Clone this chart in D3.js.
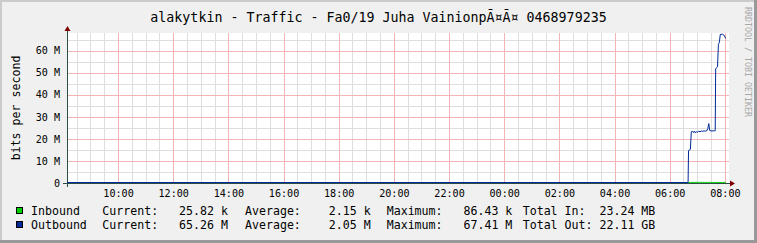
<!DOCTYPE html>
<html>
<head>
<meta charset="utf-8">
<script src="https://cdn.jsdelivr.net/npm/d3@7"></script>
<style>
  body { margin: 0; background: #f0f0f0; }
  text { font-family: "DejaVu Sans Mono", monospace; fill: #000; }
</style>
</head>
<body>
<div id="chart"></div>
<script>
// chart data
var title = "alakytkin - Traffic - Fa0/19 Juha VainionpÃ¤Ã¤ 0468979235";
var yLabel = "bits per second";
var watermark = "RRDTOOL / TOBI OETIKER";
var timeStart = "2010-03-09 08:09", timeEnd = "2010-03-10 08:09";

// outbound, M bits/s
var outTimes = ["2010-03-09 08:09", "2010-03-10 06:40", "2010-03-10 06:41", "2010-03-10 06:45",
  "2010-03-10 06:47", "2010-03-10 06:50", "2010-03-10 06:52", "2010-03-10 06:54", "2010-03-10 06:56",
  "2010-03-10 06:58", "2010-03-10 07:00", "2010-03-10 07:03", "2010-03-10 07:06", "2010-03-10 07:09",
  "2010-03-10 07:12", "2010-03-10 07:15", "2010-03-10 07:18", "2010-03-10 07:21", "2010-03-10 07:23",
  "2010-03-10 07:25", "2010-03-10 07:27", "2010-03-10 07:30", "2010-03-10 07:35", "2010-03-10 07:39",
  "2010-03-10 07:40", "2010-03-10 07:44", "2010-03-10 07:46", "2010-03-10 07:48", "2010-03-10 07:50",
  "2010-03-10 07:55", "2010-03-10 07:58", "2010-03-10 08:02"];
var outValues = [0, 0, 14.5, 15.0,
  23.0, 23.2, 22.6, 23.3, 22.5,
  23.0, 22.8, 23.2, 23.0, 23.3,
  23.2, 23.4, 23.3, 23.5, 24.5,
  26.7, 23.6, 23.4, 23.4, 23.5,
  51.5, 52.5, 62.6, 63.5, 67.1,
  67.2, 66.8, 65.3];

// inbound, k bits/s
var inTimes = ["2010-03-09 08:09", "2010-03-10 06:40", "2010-03-10 06:45", "2010-03-10 06:55",
  "2010-03-10 07:05", "2010-03-10 07:15", "2010-03-10 07:25", "2010-03-10 07:35", "2010-03-10 07:45",
  "2010-03-10 07:55", "2010-03-10 08:02"];
var inValues = [0, 0, 32.4, 55.1, 86.43, 41.2, 60.3, 38.7, 30.5, 28.1, 25.82];

var yTicks = [0, 10, 20, 30, 40, 50, 60]; // M

var legendNames = ["Inbound", "Outbound"];
var legendColors = ["#00cf00", "#002a97"];
var legendCurrent = ["25.82 k", "65.26 M"];
var legendAverage = ["2.15 k", "2.05 M"];
var legendMaximum = ["86.43 k", "67.41 M"];
var legendTotalLabel = ["Total In:", "Total Out:"];
var legendTotal = ["23.24 MB", "22.11 GB"];

var width = 757, height = 243;
var plot = {left: 67, right: 729, top: 33, bottom: 183};

var parse = d3.timeParse("%Y-%m-%d %H:%M");

var svg = d3.select("#chart")
  .append("svg")
  .attr("width", width)
  .attr("height", height);

// frame with rrd style shading
svg.append("rect").attr("width", width).attr("height", height).attr("fill", "#f0f0f0");
svg.append("rect").attr("x", 0).attr("y", 0).attr("width", width).attr("height", 2).attr("fill", "#cbcbcb");
svg.append("rect").attr("x", 0).attr("y", 0).attr("width", 2).attr("height", height).attr("fill", "#cbcbcb");
svg.append("rect").attr("x", 0).attr("y", height - 3).attr("width", width).attr("height", 3).attr("fill", "#999");
svg.append("rect").attr("x", width - 3).attr("y", 0).attr("width", 3).attr("height", height).attr("fill", "#999");

var x = d3.scaleTime()
  .domain([parse(timeStart), parse(timeEnd)])
  .range([plot.left, plot.right]);

var y = d3.scaleLinear()
  .domain([0, 68e6])
  .range([plot.bottom, plot.top]);

// canvas
svg.append("rect")
  .attr("x", plot.left).attr("y", plot.top)
  .attr("width", plot.right - plot.left).attr("height", plot.bottom - plot.top)
  .attr("fill", "#fff");

var grid = svg.append("g").attr("shape-rendering", "crispEdges");

// minor grid
grid.selectAll(".vmin")
  .data(x.ticks(d3.timeMinute.every(30)))
  .enter().append("line")
    .attr("x1", function(d) { return Math.round(x(d)) + 0.5; })
    .attr("x2", function(d) { return Math.round(x(d)) + 0.5; })
    .attr("y1", plot.top).attr("y2", plot.bottom)
    .attr("stroke", "#dedede");
grid.selectAll(".hmin")
  .data(y.ticks(14))
  .enter().append("line")
    .attr("x1", plot.left).attr("x2", plot.right)
    .attr("y1", function(d) { return Math.round(y(d)) + 0.5; })
    .attr("y2", function(d) { return Math.round(y(d)) + 0.5; })
    .attr("stroke", "#dedede");

// major grid
grid.selectAll(".vmaj")
  .data(x.ticks(d3.timeHour.every(2)))
  .enter().append("line")
    .attr("x1", function(d) { return Math.round(x(d)) + 0.5; })
    .attr("x2", function(d) { return Math.round(x(d)) + 0.5; })
    .attr("y1", plot.top).attr("y2", plot.bottom)
    .attr("stroke", "#f2b4b4");
grid.selectAll(".hmaj")
  .data(yTicks)
  .enter().append("line")
    .attr("x1", plot.left).attr("x2", plot.right)
    .attr("y1", function(d) { return Math.round(y(d * 1e6)) + 0.5; })
    .attr("y2", function(d) { return Math.round(y(d * 1e6)) + 0.5; })
    .attr("stroke", "#f2b4b4");

// axis labels
var yAxis = svg.append("g")
  .attr("transform", "translate(" + plot.left + ",0)")
  .call(d3.axisLeft(y)
    .tickValues(yTicks.map(function(d) { return d * 1e6; }))
    .tickSize(0).tickPadding(7)
    .tickFormat(function(d) { return d === 0 ? "0" : (d / 1e6) + " M"; }));
yAxis.select(".domain").remove();
yAxis.selectAll("text").style("font-family", "DejaVu Sans Mono").style("font-size", "10.1px");

var xAxis = svg.append("g")
  .attr("transform", "translate(0," + plot.bottom + ")")
  .call(d3.axisBottom(x)
    .ticks(d3.timeHour.every(2))
    .tickSize(0).tickPadding(7)
    .tickFormat(d3.timeFormat("%H:%M")));
xAxis.select(".domain").remove();
xAxis.selectAll("text").style("font-family", "DejaVu Sans Mono").style("font-size", "10.1px");

// axis lines and arrows
svg.append("line")
  .attr("x1", plot.left - 4).attr("x2", plot.right + 2)
  .attr("y1", plot.bottom + 0.5).attr("y2", plot.bottom + 0.5)
  .attr("stroke", "#2c4d43").attr("shape-rendering", "crispEdges");
svg.append("line")
  .attr("x1", plot.left + 0.5).attr("x2", plot.left + 0.5)
  .attr("y1", plot.bottom + 4).attr("y2", plot.top - 3)
  .attr("stroke", "#2c4d43").attr("shape-rendering", "crispEdges");
svg.append("path")
  .attr("d", "M" + (plot.right + 1) + "," + (plot.bottom - 2.5) + "L" + (plot.right + 6) + "," + (plot.bottom + 0.5) +
    "L" + (plot.right + 1) + "," + (plot.bottom + 3.5) + "Z")
  .attr("fill", "#7f0000");
svg.append("path")
  .attr("d", "M" + (plot.left - 2.5) + "," + (plot.top - 2) + "L" + (plot.left + 0.5) + "," + (plot.top - 7) +
    "L" + (plot.left + 3.5) + "," + (plot.top - 2) + "Z")
  .attr("fill", "#7f0000");

// series
var inData = inTimes.map(function(t, i) { return {t: parse(t), v: inValues[i] * 1e3}; });
var outData = outTimes.map(function(t, i) { return {t: parse(t), v: outValues[i] * 1e6}; });

var line = d3.line()
  .x(function(d) { return x(d.t); })
  .y(function(d) { return y(d.v) - 0.5; });

svg.append("path")
  .datum(inData)
  .attr("d", line)
  .attr("fill", "none")
  .attr("stroke", legendColors[0])
  .attr("stroke-width", 1);
svg.append("path")
  .datum(outData)
  .attr("d", line)
  .attr("fill", "none")
  .attr("stroke", legendColors[1])
  .attr("stroke-width", 1);

// title, unit label, watermark
svg.append("text")
  .attr("x", width / 2).attr("y", 21.5)
  .attr("text-anchor", "middle")
  .style("font-size", "13.3px")
  .text(title);

svg.append("text")
  .attr("transform", "translate(20,108) rotate(-90)")
  .attr("text-anchor", "middle")
  .style("font-size", "11.6px")
  .text(yLabel);

svg.append("text")
  .attr("transform", "translate(744.5,7) rotate(90)")
  .style("font-size", "8.3px")
  .style("fill", "#a8a8a8")
  .text(watermark);

// legend
function pad(s, n) { while (s.length < n) s = " " + s; return s; }

var legend = svg.append("g").style("font-size", "11.6px");
function legendText(xPos, yPos, str) {
  legend.append("text")
    .attr("x", xPos).attr("y", yPos)
    .attr("xml:space", "preserve")
    .style("white-space", "pre")
    .text(str);
}
legendNames.forEach(function(name, i) {
  var by = 215 + i * 14;
  legend.append("rect")
    .attr("x", 16.5).attr("y", by - 7.5)
    .attr("width", 6).attr("height", 6)
    .attr("fill", legendColors[i]).attr("stroke", "#000");
  legendText(31, by, name);
  legendText(102.3, by, "Current:" + pad(legendCurrent[i], 10));
  legendText(245, by, "Average:" + pad(legendAverage[i], 10));
  legendText(386.7, by, "Maximum:" + pad(legendMaximum[i], 10));
  legendText(522.7, by, legendTotalLabel[i] + pad(legendTotal[i], 19 - legendTotalLabel[i].length));
});
</script>
</body>
</html>
